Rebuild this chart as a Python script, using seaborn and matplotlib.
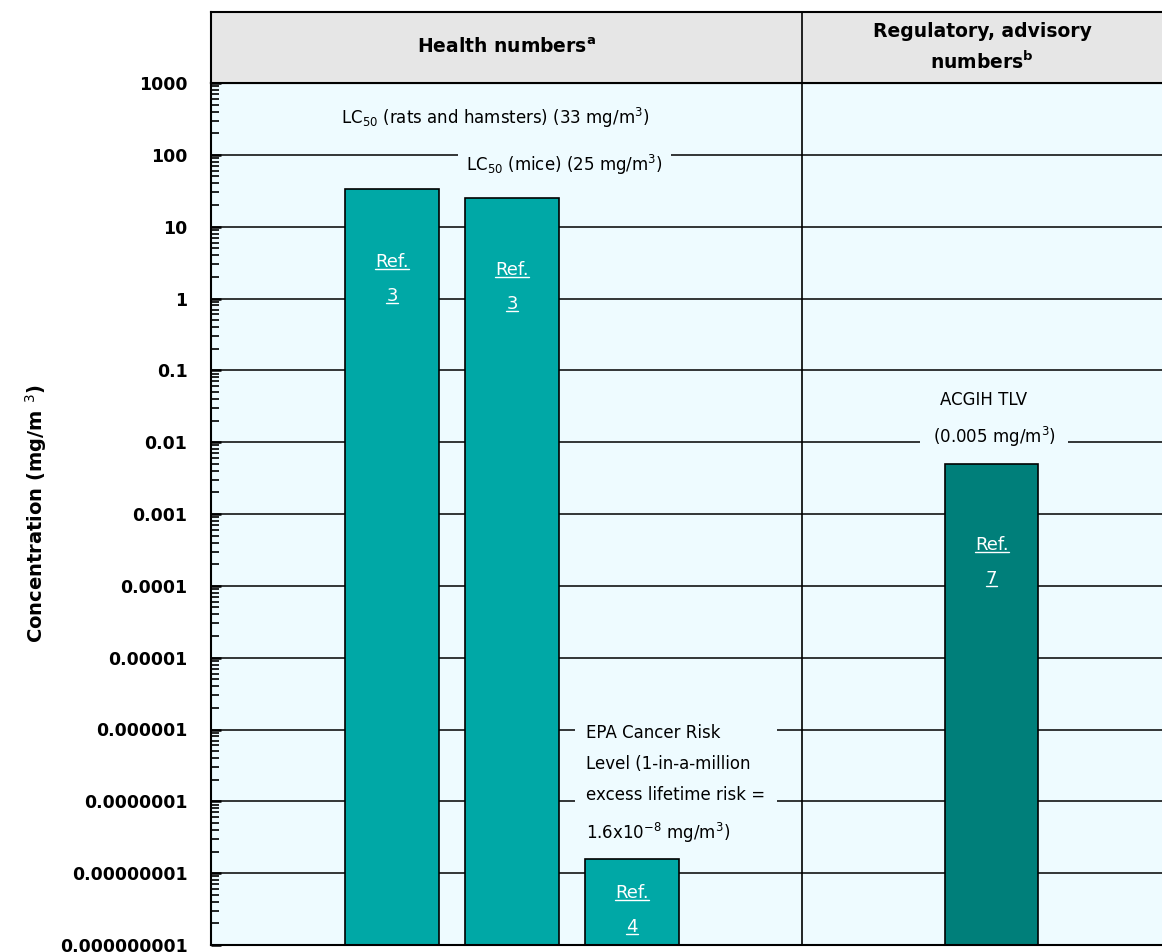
import matplotlib
matplotlib.use("Agg")

import matplotlib.pyplot as plt
import numpy as np
import pandas as pd
import seaborn as sns
from matplotlib.lines import Line2D
from matplotlib.ticker import FixedLocator, FixedFormatter, LogLocator, NullFormatter
from matplotlib.transforms import IdentityTransform

# data
sources = ["LC50 rats and hamsters", "LC50 mice", "EPA cancer risk", "ACGIH TLV"]
values = [33, 25, 1.6e-8, 0.005]
refs = ["3", "3", "4", "7"]
bar_colors = ["#00a8a6", "#00a8a6", "#00a8a6", "#007f7a"]
spacers = ["gap 1", "gap 2"]

tick_values = [1e-9, 1e-8, 1e-7, 1e-6, 1e-5, 1e-4, 1e-3, 1e-2, 1e-1, 1, 10, 100, 1000]
tick_labels = ["0.000000001", "0.00000001", "0.0000001", "0.000001", "0.00001",
               "0.0001", "0.001", "0.01", "0.1", "1", "10", "100", "1000"]

PLOT_BG = "#eefbff"
HEADER_BG = "#e6e6e6"

sns.set_style("ticks")
plt.rcParams["font.family"] = ["DejaVu Sans"]
plt.rcParams["text.color"] = "black"
plt.rcParams["axes.labelcolor"] = "black"
plt.rcParams["ytick.color"] = "black"

df = pd.DataFrame({"source": sources, "value": values})
order = sources[:3] + spacers + sources[3:]

fig = plt.figure(figsize=(11.62, 9.52), dpi=100)
W, H = 1162, 952
ax = fig.add_axes([211 / W, 7 / H, 1 - 211 / W, (945 - 83) / H])
head = fig.add_axes([211 / W, (H - 83) / H, 1 - 211 / W, (83 - 12) / H])

ax.set_facecolor(PLOT_BG)
ax.set_yscale("log")
sns.barplot(
    data=df, x="source", y="value", order=order,
    hue="source", hue_order=sources, palette=dict(zip(sources, bar_colors)),
    saturation=1, width=0.78, edgecolor="black", linewidth=1.2, legend=False, ax=ax,
)
ax.set_ylim(1e-9, 1e3)
ax.set_xlim(-1.51, 6.42)
ax.set_axisbelow(True)
ax.grid(axis="y", which="major", color="black", linewidth=1.1)
ax.grid(axis="x", visible=False)

ax.yaxis.set_major_locator(FixedLocator(tick_values))
ax.yaxis.set_major_formatter(FixedFormatter(tick_labels))
ax.yaxis.set_minor_locator(LogLocator(base=10, subs=np.arange(2, 10), numticks=20))
ax.yaxis.set_minor_formatter(NullFormatter())
ax.tick_params(axis="y", which="major", direction="in", left=True, length=7, width=1.8,
               pad=17, labelsize=12.5, color="black")
ax.tick_params(axis="y", which="minor", direction="in", left=True, length=6, width=1.2,
               color="black")
for lab in ax.get_yticklabels():
    lab.set_fontweight("bold")
ax.set_xticks([])
ax.set_xlabel("")
ax.set_ylabel("Concentration (mg/m $^{3}$)", fontsize=14, fontweight="bold")
ax.yaxis.set_label_coords(-0.17, 0.5)
for side in ["left", "bottom", "top"]:
    ax.spines[side].set_color("black")
    ax.spines[side].set_linewidth(1.5)
ax.spines["right"].set_visible(False)

divider = 3.42
ax.axvline(divider, color="black", linewidth=1.2, zorder=1)

# header band
head.set_facecolor(HEADER_BG)
head.set_xlim(ax.get_xlim())
head.set_ylim(0, 1)
head.set_xticks([])
head.set_yticks([])
for side in ["left", "bottom", "top"]:
    head.spines[side].set_color("black")
    head.spines[side].set_linewidth(1.5)
head.spines["right"].set_visible(False)
head.axvline(divider, color="black", linewidth=1.2)
head.text((-1.51 + divider) / 2, 0.5, "Health numbers$^{\\mathbf{a}}$", ha="center", va="center",
          fontsize=13.5, fontweight="bold")
head.text((divider + 6.42) / 2, 0.5, "Regulatory, advisory\nnumbers$^{\\mathbf{b}}$", ha="center",
          va="center", fontsize=13.5, fontweight="bold", linespacing=1.5)

# annotations: the boxed ones sit above the grid but under the bars
note_size = 12
ax.text(0.86, 10 ** 2.51, "LC$_{50}$ (rats and hamsters) (33 mg/m$^{3}$)", ha="center", va="center",
        fontsize=note_size, zorder=4)
ax.text(1.44, 10 ** 1.86, "LC$_{50}$ (mice) (25 mg/m$^{3}$)", ha="center", va="center",
        fontsize=note_size, bbox=dict(facecolor=PLOT_BG, edgecolor="none", pad=6), zorder=0.8)
ax.text(4.93, 10 ** -1.415, "ACGIH TLV", ha="center", va="center", fontsize=note_size, zorder=4)
ax.text(5.02, 10 ** -1.93, "(0.005 mg/m$^{3}$)", ha="center", va="center", fontsize=note_size,
        bbox=dict(facecolor=PLOT_BG, edgecolor="none", pad=9), zorder=0.8)
ax.text(1.62, 10 ** -5.93,
        "EPA Cancer Risk\nLevel (1-in-a-million\nexcess lifetime risk =\n1.6x10$^{-8}$ mg/m$^{3}$)",
        ha="left", va="top", fontsize=note_size, linespacing=1.92,
        bbox=dict(facecolor=PLOT_BG, edgecolor="none", pad=8), zorder=0.8)

# "Ref." labels inside bars, underlined
ref_pos = [(0, 0.51), (1, 0.40), (2, -8.28), (5, -3.43)]
ref_texts = []
for (xpos, logy), ref in zip(ref_pos, refs):
    for k, s in enumerate(["Ref.", ref]):
        t = ax.text(xpos, 10 ** (logy - 0.47 * k), s, ha="center", va="center", color="white",
                    fontsize=13, zorder=5)
        ref_texts.append(t)

fig.canvas.draw()
renderer = fig.canvas.get_renderer()
for t in ref_texts:
    bb = t.get_window_extent(renderer)
    fig.add_artist(Line2D([bb.x0, bb.x1], [bb.y0 + 2, bb.y0 + 2], transform=IdentityTransform(),
                          color="white", linewidth=1))

fig.savefig("out.png", dpi=100)
